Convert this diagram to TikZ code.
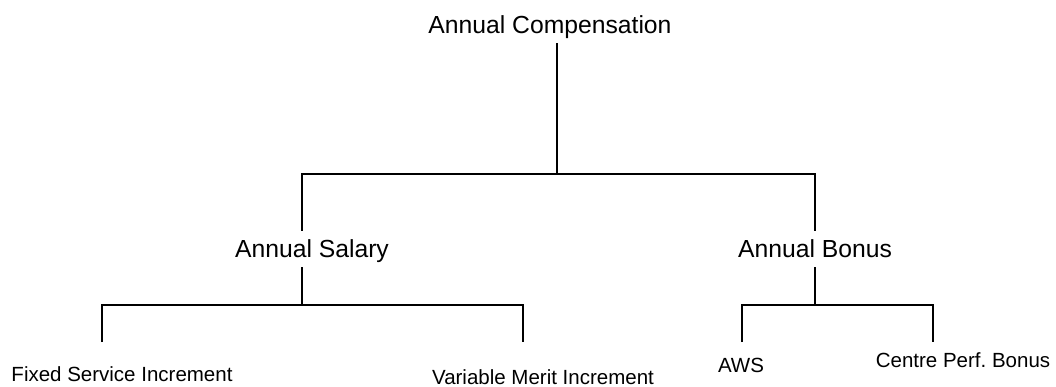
\documentclass[tikz,border=0pt]{standalone}
\usepackage{fontspec}
\setmainfont{Liberation Sans}
\usetikzlibrary{positioning}
\tikzset{
  head/.style={font=\fontsize{24.7}{28}\selectfont, text height=17.7pt, text depth=0pt, inner xsep=0pt, inner ysep=9pt},
  leaf/.style={font=\fontsize{20.5}{24}\selectfont, text height=14.7pt, text depth=0pt, inner sep=0pt},
  link/.style={line width=1.3pt}
}

\begin{document}
\begin{tikzpicture}[x=1pt, y=-1pt]
            \useasboundingbox (0,0) rectangle (1056,387);
            % titles
            \node[head] (comp) at (550,25) {Annual Compensation};
            \node[head] (sal) at (312,249) {Annual Salary};
            \node[head] (bon) at (815,249) {Annual Bonus};
            \node[leaf] (fixed) at (122,374) {Fixed Service Increment};
            \node[leaf] (merit) at (543,377) {Variable Merit Increment};
            \node[leaf] (aws) at (741,365) {AWS};
            \node[leaf] (cpb) at (963,360) {Centre Perf.\ Bonus};
            % junctions
            \coordinate (top) at (557,174);
            \coordinate (salj) at (302,174);
            \coordinate (salfork) at (302,305);
            \coordinate (bonfork) at (815,305);
            \coordinate (fixedend) at (102,342);
            \coordinate (meritend) at (523,342);
            \coordinate (awsend) at (742,342);
            \coordinate (cpbend) at (933,342);
            % connectors
            \draw[link] (comp.south -| top) -- (top);
            \draw[link] (sal.north -| salj) -- (salj) -| (bon.north);
            \draw[link] (sal.south -| salfork) -- (salfork);
            \draw[link] (fixedend) |- (salfork) -| (meritend);
            \draw[link] (bon.south) -- (bonfork);
            \draw[link] (awsend) |- (bonfork) -| (cpbend);
        \end{tikzpicture}
\end{document}
